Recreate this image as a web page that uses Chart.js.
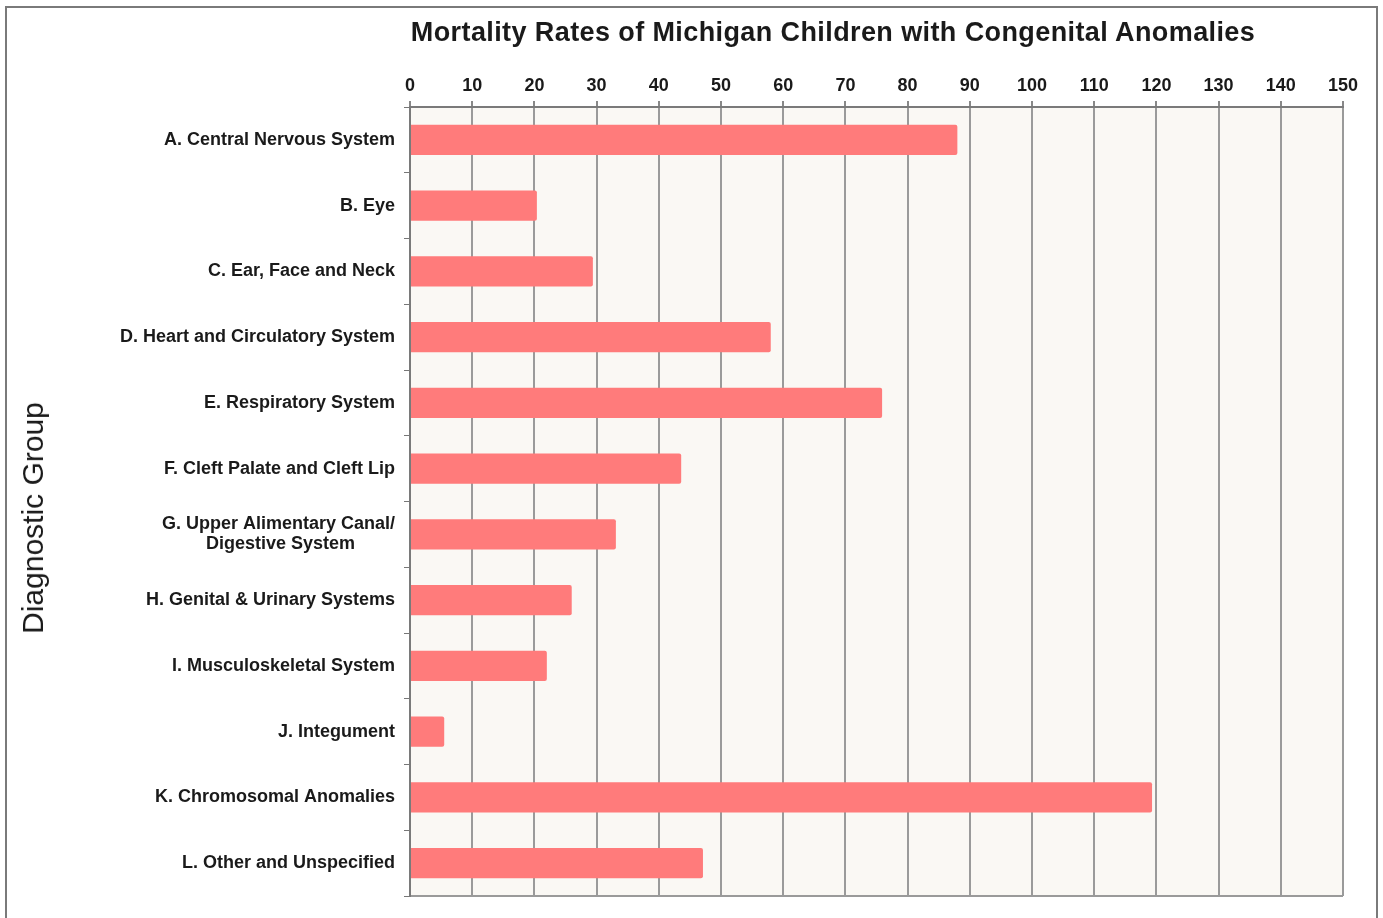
<!DOCTYPE html>
<html>
<head>
<meta charset="utf-8">
<script src="https://cdn.jsdelivr.net/npm/chart.js@4.4.1/dist/chart.umd.min.js"></script>
<style>
    html, body { margin: 0; padding: 0; background: #fff; overflow: hidden; }
    #frame {
        position: absolute; left: 5px; top: 6px; width: 1373px; height: 940px;
        border: 2px solid #7a7a7a; box-sizing: border-box;
    }
    #title {
        position: absolute; left: 0; top: 17px; width: 1666px; text-align: center;
        font: bold 27px "Liberation Sans", Arial, sans-serif; letter-spacing: 0.4px; color: #1a1a1a;
    }
    #ytitle {
        position: absolute; left: 33px; top: 518px; white-space: nowrap;
        transform: translate(-50%, -50%) rotate(-90deg);
        font: 30px "Liberation Sans", Arial, sans-serif; color: #1a1a1a;
    }
    #wrap { position: absolute; left: 0; top: 0; width: 1383px; height: 918px; }
</style>
</head>
<body>
<div id="frame"></div>
<div id="wrap"><canvas id="anomalyChart"></canvas></div>
<div id="title">Mortality Rates of Michigan Children with Congenital Anomalies</div>
<div id="ytitle">Diagnostic Group</div>
<script>
// data
const groups = [
    'A. Central Nervous System',
    'B. Eye',
    'C. Ear, Face and Neck',
    'D. Heart and Circulatory System',
    'E. Respiratory System',
    'F. Cleft Palate and Cleft Lip',
    ['G. Upper Alimentary Canal/', 'Digestive System        '],
    'H. Genital & Urinary Systems',
    'I. Musculoskeletal System',
    'J. Integument',
    'K. Chromosomal Anomalies',
    'L. Other and Unspecified'
];
const mortalityRates = [88, 20.4, 29.4, 58, 75.9, 43.6, 33.1, 26, 22, 5.5, 119.3, 47.1];
const xMin = 0, xMax = 150, xStep = 10;

// plot background + bottom border
const plotBackground = {
    id: 'plotBackground',
    beforeDraw(chart) {
        const { ctx, chartArea: a } = chart;
        ctx.save();
        ctx.fillStyle = '#faf8f4';
        ctx.fillRect(a.left, a.top, a.right - a.left, a.bottom - a.top);
        ctx.strokeStyle = '#9a9a9a';
        ctx.lineWidth = 2;
        ctx.beginPath();
        ctx.moveTo(a.left, a.bottom);
        ctx.lineTo(a.right, a.bottom);
        ctx.stroke();
        ctx.restore();
    }
};

const labelFont = { family: '"Liberation Sans", Arial, sans-serif', size: 18, weight: 'bold', lineHeight: 1.1 };

const ctx = document.getElementById('anomalyChart').getContext('2d');
new Chart(ctx, {
    type: 'bar',
    data: {
        labels: groups,
        datasets: [{
            data: mortalityRates,
            backgroundColor: '#ff7b7b',
            borderRadius: 2,
            borderSkipped: 'start',
            barPercentage: 0.46,
            categoryPercentage: 1
        }]
    },
    options: {
        indexAxis: 'y',
        responsive: true,
        maintainAspectRatio: false,
        animation: false,
        layout: { padding: { top: 47, right: 40, bottom: 22, left: 0 } },
        plugins: { legend: { display: false }, tooltip: { enabled: false } },
        scales: {
            x: {
                position: 'top',
                min: xMin, max: xMax,
                ticks: { stepSize: xStep, padding: 5, color: '#1a1a1a', font: labelFont },
                grid: { color: '#9a9a9a', lineWidth: 2, tickLength: 6, tickColor: '#888' },
                border: { color: '#7a7a7a', width: 2 },
                afterFit(scale) { scale.height = 60; }
            },
            y: {
                ticks: { padding: 9, color: '#1a1a1a', font: labelFont },
                grid: { drawOnChartArea: false, tickLength: 6, color: '#777', offset: true },
                border: { color: '#7a7a7a', width: 2 },
                afterFit(scale) { scale.width = 410; }
            }
        }
    },
    plugins: [plotBackground]
});
</script>
</body>
</html>
